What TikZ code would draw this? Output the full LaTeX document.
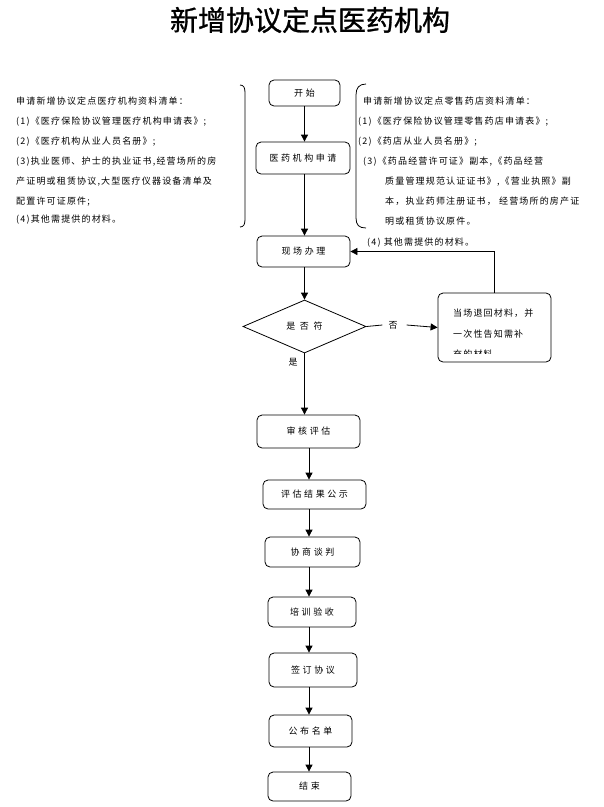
\documentclass[tikz,border=0pt]{standalone}
\usepackage{fontspec}
\usetikzlibrary{arrows.meta,shapes.geometric}
\newfontfamily\cjk{Noto Sans CJK SC}
\newfontfamily\cjktitle[FakeBold=1]{Noto Sans CJK SC}
\newfontfamily\cjkls[LetterSpace=13]{Noto Sans CJK SC}
\newfontfamily\cjkbx[LetterSpace=28]{Noto Sans CJK SC}
\begin{document}
\begin{tikzpicture}[x=1pt,y=-1pt,
  box/.style={draw, rounded corners=5pt, line width=0.8pt, inner sep=0pt, font=\cjkbx\fontsize{9}{11}\selectfont},
  arr/.style={line width=0.8pt, -{Triangle[width=7pt,length=7pt]}},
  ln/.style={line width=0.8pt},
  txt/.style={anchor=base west, inner sep=0pt, font=\cjkls\fontsize{9}{11}\selectfont},
  brk/.style={line width=0.8pt}]
\useasboundingbox (0,0) rectangle (604,807);
\node[font=\cjktitle\fontsize{28}{32}\selectfont] (title) at (310,20) {新增协议定点医药机构};

% left list
\node[txt] (l1) at (16,104.5) {申请新增协议定点医疗机构资料清单：};
\node[txt] (l2) at (16,124.5) {(1)《医疗保险协议管理医疗机构申请表》;};
\node[txt] (l3) at (16,144.5) {(2)《医疗机构从业人员名册》;};
\node[txt] (l4) at (16,164.5) {(3)执业医师、护士的执业证书,经营场所的房};
\node[txt] (l5) at (16,184.5) {产证明或租赁协议,大型医疗仪器设备清单及};
\node[txt] (l6) at (16,204) {配置许可证原件;};
\node[txt] (l7) at (16,222.5) {(4)其他需提供的材料。};
\draw[brk] (240,85) .. controls (244,85) and (245,88) .. (245,93) -- (245,219) .. controls (245,224) and (244,227) .. (240,227);

% right list
\node[txt] (r1) at (363,104.5) {申请新增协议定点零售药店资料清单：};
\node[txt] (r2) at (358,124.5) {(1)《医疗保险协议管理零售药店申请表》;};
\node[txt] (r3) at (358,144.5) {(2)《药店从业人员名册》;};
\node[txt] (r4) at (363,164.5) {(3)《药品经营许可证》副本,《药品经营};
\node[txt] (r5) at (385,184.5) {质量管理规范认证证书》,《营业执照》副};
\node[txt] (r6) at (385,204.5) {本，执业药师注册证书， 经营场所的房产证};
\node[txt] (r7) at (385,224.5) {明或租赁协议原件。};
\node[txt] (r8) at (367,245.5) {(4) 其他需提供的材料。};
\draw[brk] (366,84) .. controls (359,84) and (356,88) .. (356,95) -- (356,218) .. controls (356,225) and (359,228) .. (366,228);

% flow
\node[box, minimum width=71pt, minimum height=26pt] (start) at (304.5,93) {开始};
\node[box, minimum width=94pt, minimum height=32pt] (apply) at (303,158) {医药机构申请};
\node[box, minimum width=93pt, minimum height=31pt] (onsite) at (303.5,251.5) {现场办理};
\node[diamond, draw, line width=0.8pt, minimum width=123pt, minimum height=53pt, inner sep=0pt, font=\cjkbx\fontsize{9}{11}\selectfont] (dec) at (304.5,326.5) {是 否 符};
\node[box, minimum width=113pt, minimum height=69pt] (ret) at (494.5,327.5) {};
\node[txt] (t1) at (453,316) {当场退回材料，并};
\node[txt] (t2) at (453,337) {一次性告知需补};
\begin{scope}
\clip (440,340) rectangle (550,353);
\node[txt] (t3) at (453,357) {充的材料};
\end{scope}
\node[inner sep=0pt, font=\cjk\fontsize{9}{11}\selectfont] (no) at (393,325) {否};
\node[inner sep=0pt, font=\cjk\fontsize{9}{11}\selectfont] (yes) at (293,362) {是};

\node[box, minimum width=103pt, minimum height=33pt] (s1) at (308.5,431.5) {审核评估};
\node[box, minimum width=103pt, minimum height=29pt] (s2) at (314.5,494.5) {评估结果公示};
\node[box, minimum width=95pt, minimum height=30pt] (s3) at (312.5,552) {协商谈判};
\node[box, minimum width=88pt, minimum height=30pt] (s4) at (312,612) {培训验收};
\node[box, minimum width=88pt, minimum height=34pt] (s5) at (313,670) {签订协议};
\node[box, minimum width=83pt, minimum height=32pt] (s6) at (310.5,731) {公布名单};
\node[box, minimum width=83pt, minimum height=29pt] (s7) at (309.5,786.5) {结束};
\coordinate (ax) at (309,0);

\draw[arr] (start.south) -- (start.south |- apply.north);
\draw[arr] (start.south |- apply.south) -- (start.south |- onsite.north);
\draw[arr] (dec.north |- onsite.south) -- (dec.north);
\draw[ln] (dec.east) -- ([xshift=-6pt]no.west);
\draw[arr] ([xshift=9pt]no.east) -- (ret.west);
\draw[arr] (ret.north) |- (onsite.east);
\draw[arr] (dec.south) -- (dec.south |- s1.north);
\draw[arr] (s1.south -| ax) -- (s2.north -| ax);
\draw[arr] (s2.south -| ax) -- (s3.north -| ax);
\draw[arr] (s3.south -| ax) -- (s4.north -| ax);
\draw[arr] (s4.south -| ax) -- (s5.north -| ax);
\draw[arr] (s5.south -| ax) -- (s6.north -| ax);
\draw[arr] (s6.south -| ax) -- (s7.north -| ax);
\end{tikzpicture}
\end{document}
